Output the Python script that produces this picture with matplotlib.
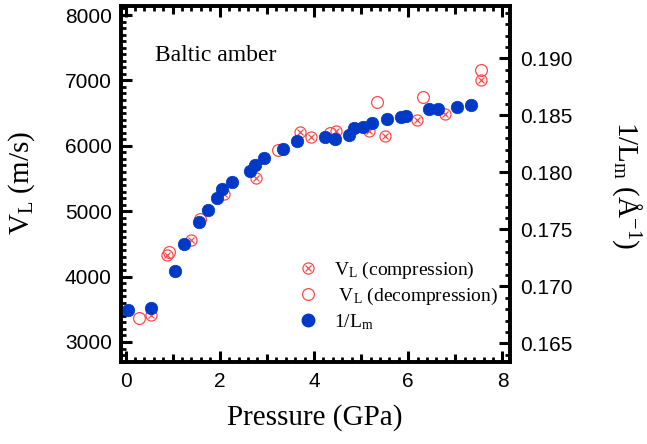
import matplotlib
matplotlib.use("Agg")
import matplotlib.pyplot as plt
from matplotlib.ticker import MultipleLocator, FuncFormatter
from matplotlib.lines import Line2D

plt.rcParams['mathtext.fontset'] = 'custom'
plt.rcParams['mathtext.rm'] = 'Liberation Serif'
plt.rcParams['mathtext.it'] = 'Liberation Serif:italic'

# ---- data ----
p_comp = [0.54, 0.88, 1.38, 2.09, 2.76, 3.71, 3.94, 4.47, 5.17, 5.51, 6.18, 6.77, 7.54]
v_comp = [3408, 4330, 4560, 5258, 5512, 6216, 6139, 6231, 6219, 6157, 6391, 6486, 7006]

p_decomp = [0.28, 0.92, 1.59, 3.23, 4.34, 5.33, 6.32, 7.55]
v_decomp = [3364, 4376, 4876, 5940, 6200, 6673, 6746, 7159]

p_lm = [0.05, 0.54, 1.05, 1.25, 1.55, 1.75, 1.94, 2.04, 2.25, 2.64, 2.74, 2.94,
        3.34, 3.65, 4.24, 4.45, 4.74, 4.84, 5.05, 5.24, 5.54, 5.84, 5.95,
        6.44, 6.64, 7.03, 7.34]
inv_lm = [0.16789, 0.16807, 0.17136, 0.17375, 0.17560, 0.17671, 0.17775, 0.17857,
          0.17919, 0.18013, 0.18068, 0.18129, 0.18206, 0.18279, 0.18310, 0.18296,
          0.18325, 0.18386, 0.18399, 0.18432, 0.18469, 0.18489, 0.18498, 0.18559,
          0.18559, 0.18570, 0.18588]

x_ticks = [0, 2, 4, 6, 8]
left_ticks = [3000, 4000, 5000, 6000, 7000, 8000]
right_ticks = [0.165, 0.170, 0.175, 0.180, 0.185, 0.190]

W, H = 647, 444
fig = plt.figure(figsize=(W / 100, H / 100), dpi=100)
ax = fig.add_axes([121.5 / W, 1 - 362 / H, (510 - 121.5) / W, (362 - 6) / H])
ax2 = ax.twinx()

red = '#ff4a4a'
blue = '#0038c8'

ax.plot(p_comp, v_comp, ls='none', marker='o', ms=8, mfc='none', mec=red, mew=0.9)
ax.plot(p_comp, v_comp, ls='none', marker='x', ms=4, mec=red, mew=0.9)
ax.plot(p_decomp, v_decomp, ls='none', marker='o', ms=8.5, mfc='none', mec=red, mew=0.9)
ax2.plot(p_lm, inv_lm, ls='none', marker='o', ms=9, mfc=blue, mec=blue, mew=0.5)

ax.set_xlim(-0.085, 8.16)
ax.set_ylim(2694, 8138)
ax2.set_ylim(0.16336, 0.19459)

ax.set_xticks(x_ticks)
ax.xaxis.set_minor_locator(MultipleLocator(0.2))
ax.set_yticks(left_ticks)
ax.yaxis.set_minor_locator(MultipleLocator(100))
ax2.set_yticks(right_ticks)
ax2.yaxis.set_minor_locator(MultipleLocator(0.001))
ax2.yaxis.set_major_formatter(FuncFormatter(lambda v, p: f"{v:.3f}"))

for a in (ax, ax2):
    for s in a.spines.values():
        s.set_linewidth(2.6)

tick_font = 'Liberation Sans'
ax.tick_params(axis='x', which='both', direction='in', top=True, bottom=True, width=2.2)
ax.tick_params(axis='x', which='major', length=8, labelsize=15, pad=7)
ax.tick_params(axis='x', which='minor', length=3.5, width=2.0)
ax.tick_params(axis='y', which='both', direction='in', left=True, right=False, width=2.2)
ax.tick_params(axis='y', which='major', length=8, labelsize=15, pad=7)
ax.tick_params(axis='y', which='minor', length=3.5, width=2.0)
ax2.tick_params(axis='y', which='both', direction='in', left=False, right=True, width=2.2)
ax2.tick_params(axis='y', which='major', length=8, labelsize=15, pad=7)
ax2.tick_params(axis='y', which='minor', length=3.5, width=2.0)
for lab in ax.get_xticklabels() + ax.get_yticklabels() + ax2.get_yticklabels():
    lab.set_fontfamily(tick_font)

# odd-integer medium ticks on bottom and top
sec_b = ax.secondary_xaxis('bottom')
sec_b.set_xticks([1, 3, 5, 7])
sec_b.tick_params(direction='in', length=5.5, width=2.2, labelbottom=False)
sec_b.spines['bottom'].set_visible(False)
sec_t = ax.secondary_xaxis('top')
sec_t.set_xticks([1, 3, 5, 7])
sec_t.tick_params(direction='in', length=5.5, width=2.2, labeltop=False)
sec_t.spines['top'].set_visible(False)

serif = 'Liberation Serif'
fig.text(0.487, 0.0586, 'Pressure (GPa)', family=serif, fontsize=21, ha='center', va='center')
fig.text(0.034, 0.588, r'V$_\mathrm{L}$ (m/s)', family=serif, fontsize=21, ha='center', va='center', rotation=90)
fig.text(627 / W, 0.583, r'1/L$_\mathrm{m}$ (Å$^\mathrm{-1}$)', family=serif, fontsize=21,
         ha='center', va='center', rotation=-90)
fig.text(155 / W, 1 - 61 / H, 'Baltic amber', family=serif, fontsize=17, ha='left', va='baseline')

h1 = (Line2D([], [], ls='none', marker='o', ms=8, mfc='none', mec=red, mew=0.9),
      Line2D([], [], ls='none', marker='x', ms=4, mec=red, mew=0.9))
h2 = Line2D([], [], ls='none', marker='o', ms=8.5, mfc='none', mec=red, mew=0.9)
h3 = Line2D([], [], ls='none', marker='o', ms=9, mfc=blue, mec=blue)
leg = ax2.legend([h1, h2, h3],
                 [r'V$_\mathrm{L}$ (compression)', r' V$_\mathrm{L}$ (decompression)', r'1/L$_\mathrm{m}$'],
                 frameon=False, loc='upper left', bbox_to_anchor=(298 / W, 1 - 260 / H),
                 bbox_transform=fig.transFigure, prop={'family': serif, 'size': 14},
                 handlelength=1.0, handletextpad=0.85, labelspacing=0.25, borderpad=0, borderaxespad=0)

fig.savefig('out.png', dpi=100)
